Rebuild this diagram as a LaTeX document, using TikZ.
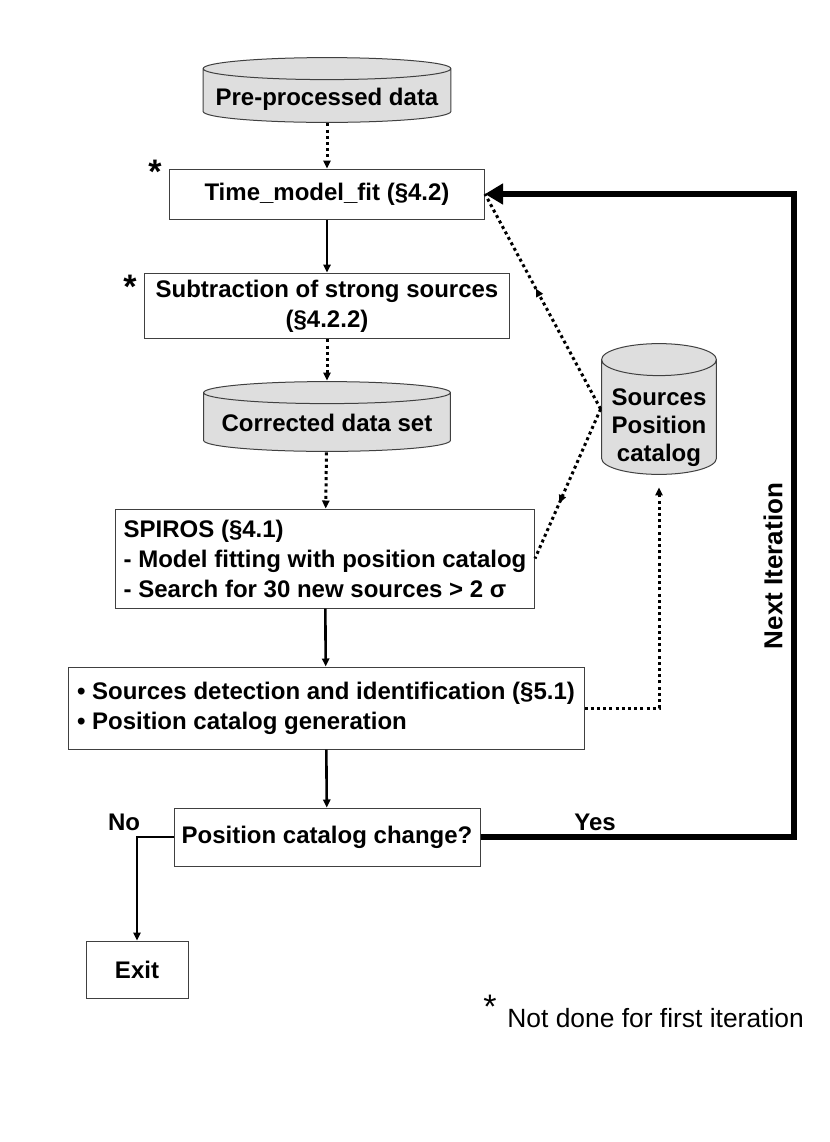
\documentclass[tikz,border=0pt]{standalone}
\usepackage{fontspec}
\setmainfont{Liberation Sans}
\usetikzlibrary{calc,arrows.meta,decorations.markings}
\tikzset{
    stepbox/.style = {rectangle, draw=black!75, line width=0.5pt, fill=white, text centered, font=\bfseries\fontsize{12}{15}\selectfont},
    dbase/.style = {rectangle, inner ysep=0pt, text centered, font=\bfseries\fontsize{12}{14}\selectfont,
        path picture={
            \draw [fill=black!13, draw=black!75, line width=0.5pt]
                let \p1 = ($(path picture bounding box.north west)+(0.3pt,-0.3pt)$),
                    \p2 = ($(path picture bounding box.south east)+(-0.3pt,0.3pt)$),
                    \n1 = {(\x2-\x1)/2} in
                (\x1,\y1-#1) -- (\x1,\y2+#1) arc [start angle=180, end angle=360, x radius=\n1, y radius=#1]
                -- (\x2,\y1-#1) arc [start angle=0, end angle=180, x radius=\n1, y radius=#1] -- cycle
                (\x1,\y1-#1) arc [start angle=180, end angle=360, x radius=\n1, y radius=#1];
        }},
    lbl/.style = {font=\bfseries\fontsize{12}{14}\selectfont},
    ast/.style = {font=\bfseries\fontsize{17}{17}\selectfont, inner sep=0pt},
    flow/.style = {line width=1.3pt, -{Triangle[length=4pt,width=3.6pt]}},
    dots/.style = {line width=1.5pt, dash pattern=on 1.5pt off 1.6pt, -{Triangle[length=4pt,width=3.6pt]}},
    loopback/.style = {line width=3.3pt, -{Triangle[length=9pt,width=10pt]}},
    midarrow/.style = {line width=1.5pt, dash pattern=on 1.5pt off 1.6pt, postaction={decorate},
        decoration={markings, mark=at position #1 with {\arrow{Triangle[length=4pt,width=3.6pt]}}}}
}
\begin{document}
\begin{tikzpicture}[x=0.5pt, y=-0.5pt]
    \useasboundingbox (0,0) rectangle (830,1142);

    \node [dbase=5.5pt, minimum width=124.5pt, text height=24.3pt, text depth=8.7pt] (pre) at (327,90) {Pre-processed data};
    \node [stepbox, minimum width=157.5pt, minimum height=25pt] (tmf) at (327,194) {Time\_model\_fit (§4.2)};
    \node [stepbox, minimum width=182.5pt, minimum height=29pt, align=center] (sub) at (327,306) {Subtraction of strong sources\\(§4.2.2)};
    \node [dbase=5.5pt, minimum width=124pt, text height=25.3pt, text depth=10.2pt] (cor) at (327,416.5) {Corrected data set};
    \node [stepbox, minimum width=209.5pt, minimum height=49.5pt, align=left] (spi) at (325,558.5) {SPIROS (§4.1)\\- Model fitting with position catalog\\- Search for 30 new sources > 2 σ};
    \node [stepbox, minimum width=258pt, minimum height=41pt, align=left] (det) at (326,708) {• Sources detection and identification (§5.1)\\• Position catalog generation};
    \node [stepbox, minimum width=153pt, minimum height=29pt] (chg) at (327,837) {Position catalog change?};
    \node [stepbox, minimum width=51pt, minimum height=28.5pt] (ext) at (137,969.5) {Exit};
    \node [dbase=8pt, minimum width=58pt, text height=59.3pt, text depth=6.7pt] (cat) at (659,409)
        {\begin{tabular}[b]{@{}c@{}}Sources\\Position\\catalog\end{tabular}};

    \node [ast] (astA) at (155,172) {*};
    \node [ast] (astB) at (130,287) {*};
    \node [lbl] (yes) at (595,822) {Yes};
    \node [lbl] (no) at (124,822) {No};
    \node [lbl, font=\bfseries\fontsize{13}{15}\selectfont, rotate=90] (nxt) at (773,566) {Next Iteration};
    \node [ast, font=\fontsize{17}{17}\selectfont] (astC) at (490,1007) {*};
    \node [font=\fontsize{13.2}{15}\selectfont, anchor=base west, inner sep=0pt] (note) at (507,1027) {Not done for first iteration};
    \coordinate (turn) at (794,194);

    \draw [dots] (pre) -- (tmf);
    \draw [flow] (tmf) -- (sub);
    \draw [dots] (sub) -- (cor);
    \draw [dots] (cor) -- (spi);
    \draw [flow] (spi) -- (det);
    \draw [flow] (det) -- (chg);
    \draw [flow] (chg.west) -| (ext.north);
    \draw [loopback] (chg.east) -| (turn) -- (tmf.east);
    \draw [dots, shorten >=6pt] (det.east) -| (cat.south);
    \draw [midarrow=0.56] (cat.west) -- (tmf.east);
    \draw [midarrow=0.63] (cat.west) -- (spi.east);
\end{tikzpicture}
\end{document}
